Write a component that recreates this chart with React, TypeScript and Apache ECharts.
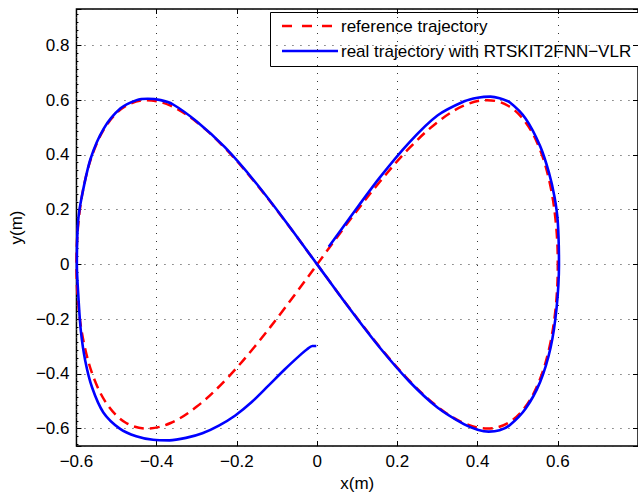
import React, { useEffect, useRef } from "react";
import * as echarts from "echarts";

// Reference trajectory (figure eight)
const refX = [
  0, 0.0783, 0.1553, 0.2296, 0.3, 0.3653, 0.4243, 0.476, 0.5196, 0.5543, 0.5796, 0.5949, 0.6,
  0.5949, 0.5796, 0.5543, 0.5196, 0.476, 0.4243, 0.3653, 0.3, 0.2296, 0.1553, 0.0783, 0,
  -0.0783, -0.1553, -0.2296, -0.3, -0.3653, -0.4243, -0.476, -0.5196, -0.5543, -0.5796, -0.5949, -0.6,
  -0.5949, -0.5796, -0.5543, -0.5196, -0.476, -0.4243, -0.3653, -0.3, -0.2296, -0.1553, -0.0783, 0,
];
const refY = [
  0, 0.1553, 0.3, 0.4243, 0.5196, 0.5796, 0.6, 0.5796, 0.5196, 0.4243, 0.3, 0.1553, 0,
  -0.1553, -0.3, -0.4243, -0.5196, -0.5796, -0.6, -0.5796, -0.5196, -0.4243, -0.3, -0.1553, 0,
  0.1553, 0.3, 0.4243, 0.5196, 0.5796, 0.6, 0.5796, 0.5196, 0.4243, 0.3, 0.1553, 0,
  -0.1553, -0.3, -0.4243, -0.5196, -0.5796, -0.6, -0.5796, -0.5196, -0.4243, -0.3, -0.1553, 0,
];

// Real trajectory with RTSKIT2FNN-VLR
const realX = [
  -0.002, -0.012, -0.025, -0.039, -0.081, -0.122, -0.163, -0.204, -0.245, -0.286, -0.327, -0.368,
  -0.409, -0.451, -0.492, -0.533, -0.561, -0.578, -0.589, -0.595, -0.599, -0.596, -0.587, -0.565,
  -0.532, -0.49, -0.45, -0.422, -0.39, -0.36, -0.3, -0.23, -0.155, -0.078, 0, 0.078,
  0.155, 0.23, 0.3, 0.367, 0.4, 0.428, 0.455, 0.48, 0.52, 0.556, 0.582, 0.597, 0.603, 0.6, 0.592,
  0.578, 0.556, 0.52, 0.48, 0.455, 0.432, 0.4, 0.367, 0.3, 0.23, 0.155, 0.078, 0.029,
];
const realY = [
  -0.298, -0.298, -0.31, -0.327, -0.384, -0.444, -0.503, -0.552, -0.589, -0.617, -0.634, -0.643,
  -0.641, -0.628, -0.6, -0.541, -0.45, -0.353, -0.244, -0.123, 0, 0.155, 0.245, 0.385,
  0.496, 0.57, 0.6, 0.605, 0.6, 0.585, 0.522, 0.428, 0.302, 0.156, 0, -0.156,
  -0.302, -0.428, -0.523, -0.585, -0.604, -0.611, -0.606, -0.588, -0.527, -0.43, -0.305, -0.16, 0, 0.155, 0.245,
  0.335, 0.432, 0.532, 0.592, 0.607, 0.613, 0.609, 0.596, 0.544, 0.446, 0.315, 0.163, 0.064,
];

const legendNames = ["reference trajectory", "real trajectory with RTSKIT2FNN\u2212VLR"];
const xName = "x(m)";
const yName = "y(m)";

const FONT = '"Liberation Sans", Arial, Helvetica, sans-serif';

const fmt = (v: number) => {
  const s = String(Math.round(v * 10) / 10);
  return s.replace("-", "\u2212");
};

export default function App() {
  const ref = useRef<HTMLDivElement>(null);
  useEffect(() => {
    if (!ref.current) return;
    const chart = echarts.init(ref.current, null, { renderer: "svg" });
    const refData = refX.map((x, i) => [x, refY[i]]);
    const realData = realX.map((x, i) => [x, realY[i]]);
    const gridLine = { show: true, lineStyle: { color: "#333", width: 1, type: [1, 7] } };
    const tick = { show: true, inside: true, length: 5, lineStyle: { color: "#000", width: 1 } };
    const noLine = { show: false, onZero: false };
    chart.setOption({
      animation: false,
      backgroundColor: "#fff",
      grid: {
        left: 73,
        top: 9,
        width: 567,
        height: 440,
        show: true,
        borderColor: "#000",
        borderWidth: 1.5,
        backgroundColor: "transparent",
      },
      xAxis: [
        {
          type: "value",
          position: "bottom",
          min: -0.6,
          max: 0.8,
          interval: 0.2,
          axisLine: noLine,
          axisTick: tick,
          splitLine: gridLine,
          axisLabel: {
            color: "#000",
            fontSize: 17,
            fontFamily: FONT,
            margin: 7,
            showMaxLabel: false,
            formatter: fmt,
          },
          name: xName,
          nameLocation: "middle",
          nameGap: 26,
          nameTextStyle: { color: "#000", fontSize: 17, fontFamily: FONT },
        },
        {
          type: "value",
          position: "top",
          min: -0.6,
          max: 0.8,
          interval: 0.2,
          axisLine: noLine,
          axisTick: tick,
          splitLine: { show: false },
          axisLabel: { show: false },
        },
      ],
      yAxis: [
        {
          type: "value",
          position: "left",
          min: -0.664,
          max: 0.933,
          splitNumber: 8,
          axisLine: noLine,
          axisTick: tick,
          minorTick: { show: true, splitNumber: 7, length: 2, lineStyle: { color: "#000", width: 1 } },
          splitLine: gridLine,
          axisLabel: {
            color: "#000",
            fontSize: 17,
            fontFamily: FONT,
            margin: 7,
            showMinLabel: false,
            showMaxLabel: false,
            formatter: fmt,
          },
          name: yName,
          nameLocation: "middle",
          nameGap: 46,
          nameTextStyle: { color: "#000", fontSize: 17, fontFamily: FONT },
        },
        {
          type: "value",
          position: "right",
          min: -0.664,
          max: 0.933,
          splitNumber: 8,
          axisLine: noLine,
          axisTick: tick,
          splitLine: { show: false },
          axisLabel: { show: false },
        },
      ],
      series: [
        {
          name: legendNames[0],
          type: "line",
          data: refData,
          showSymbol: false,
          smooth: 0.35,
          lineStyle: { color: "#ff0000", width: 2.5, type: [10, 6] },
          z: 2,
        },
        {
          name: legendNames[1],
          type: "line",
          data: realData,
          showSymbol: false,
          smooth: 0.3,
          lineStyle: { color: "#0000ff", width: 2.6 },
          z: 3,
        },
      ],
      graphic: [
        {
          type: "group",
          z: 100,
          children: [
            {
              type: "rect",
              shape: { x: 270.5, y: 12.5, width: 420, height: 54 },
              style: { fill: "#fff", stroke: "#000", lineWidth: 1 },
            },
            {
              type: "line",
              shape: { x1: 282, y1: 26, x2: 334, y2: 26 },
              style: { stroke: "#ff0000", lineWidth: 2.5, lineDash: [10, 10] },
            },
            {
              type: "line",
              shape: { x1: 282, y1: 51, x2: 338, y2: 51 },
              style: { stroke: "#0000ff", lineWidth: 2.6 },
            },
            {
              type: "text",
              x: 341,
              y: 26,
              style: {
                text: legendNames[0],
                fill: "#000",
                fontSize: 17,
                fontFamily: FONT,
                verticalAlign: "middle",
              },
            },
            {
              type: "text",
              x: 341,
              y: 51,
              style: {
                text: legendNames[1],
                fill: "#000",
                fontSize: 17,
                fontFamily: FONT,
                verticalAlign: "middle",
              },
            },
          ],
        },
      ],
    });
    return () => chart.dispose();
  }, []);
  return (
    <div
      ref={ref}
      style={{ position: "absolute", left: 0, top: 0, width: 638, height: 497 }}
    />
  );
}
